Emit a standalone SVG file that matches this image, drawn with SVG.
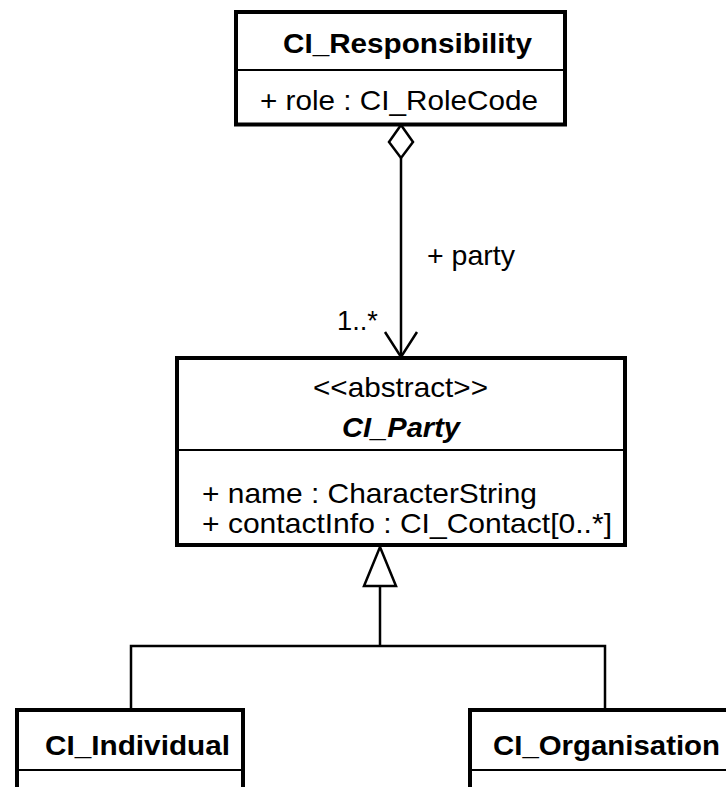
<svg xmlns="http://www.w3.org/2000/svg" width="726" height="787" viewBox="0 0 726 787">
<style>
.box{fill:#fff;stroke:#000;stroke-width:4}
.div{stroke:#000;stroke-width:2}
.ln{stroke:#000;stroke-width:2.5;fill:none}
text{font-family:"Liberation Sans",Arial,sans-serif;font-size:28px;fill:#000}
.b{font-weight:bold}
.bi{font-weight:bold;font-style:italic}
</style>
<rect width="726" height="787" fill="#fff"/>
<g id="connectors">
<line class="ln" x1="401" y1="158" x2="401" y2="356"/>
<polygon class="ln" points="401,125 413,142 401,158 389,142" fill="#fff"/>
<polyline class="ln" points="385,332 401,357 417,332"/>
<text x="427" y="265" textLength="88" lengthAdjust="spacingAndGlyphs">+ party</text>
<text x="337" y="330" textLength="41" lengthAdjust="spacingAndGlyphs">1..*</text>
<polygon class="ln" points="380,547 396,586 364,586" fill="#fff"/>
<polyline class="ln" points="380,586 380,646"/>
<polyline class="ln" points="131,710 131,646 605,646 605,710"/>
</g>
<g id="CI_Responsibility">
<rect class="box" x="236" y="12" width="329" height="112.5"/>
<line class="div" x1="236" y1="70" x2="565" y2="70"/>
<text class="b" x="283" y="53" textLength="249" lengthAdjust="spacingAndGlyphs">CI_Responsibility</text>
<text x="260" y="110" textLength="278" lengthAdjust="spacingAndGlyphs">+ role : CI_RoleCode</text>
</g>
<g id="CI_Party">
<rect class="box" x="177" y="358" width="448" height="187"/>
<line class="div" x1="177" y1="450" x2="625" y2="450"/>
<text x="313" y="397" textLength="175" lengthAdjust="spacingAndGlyphs">&lt;&lt;abstract&gt;&gt;</text>
<text class="bi" x="342" y="437" textLength="118" lengthAdjust="spacingAndGlyphs">CI_Party</text>
<text x="202" y="503" textLength="335" lengthAdjust="spacingAndGlyphs">+ name : CharacterString</text>
<text x="202" y="533" textLength="410" lengthAdjust="spacingAndGlyphs">+ contactInfo : CI_Contact[0..*]</text>
</g>
<g id="CI_Individual">
<rect class="box" x="17" y="710" width="226" height="100"/>
<line class="div" x1="17" y1="770" x2="243" y2="770"/>
<text class="b" x="45" y="755" textLength="185" lengthAdjust="spacingAndGlyphs">CI_Individual</text>
</g>
<g id="CI_Organisation">
<rect class="box" x="470" y="710" width="280" height="100"/>
<line class="div" x1="470" y1="770" x2="750" y2="770"/>
<text class="b" x="493" y="755" textLength="227" lengthAdjust="spacingAndGlyphs">CI_Organisation</text>
</g>
</svg>
